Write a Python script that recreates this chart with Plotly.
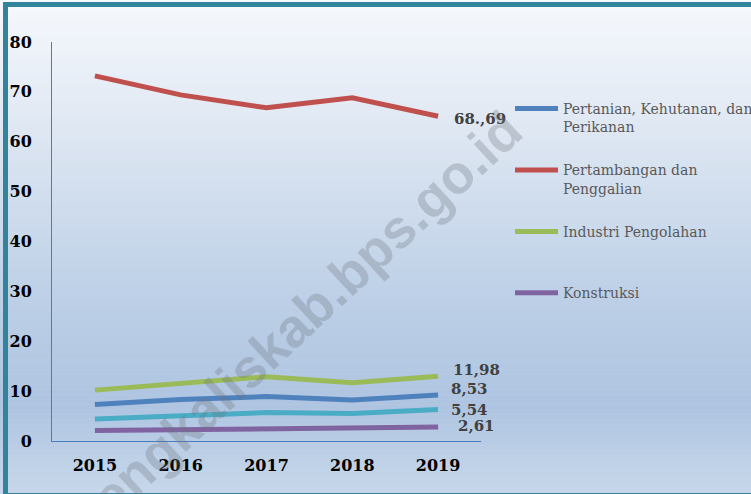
import plotly.graph_objects as go

years = ["2015", "2016", "2017", "2018", "2019"]
pertanian = [7.3, 8.3, 8.9, 8.2, 9.2]
pertambangan = [73.2, 69.4, 66.8, 68.8, 65.1]
industri = [10.2, 11.5, 12.9, 11.7, 13.0]
lainnya = [4.4, 5.0, 5.7, 5.5, 6.3]
konstruksi = [2.1, 2.3, 2.6, 2.6, 2.8]

names = ["Pertanian, Kehutanan, dan<br>Perikanan", "Pertambangan dan<br>Penggalian",
         "Industri Pengolahan<br> ", "Konstruksi"]
end_labels = ["8,53", "68.,69", "11,98", "5,54", "2,61"]
y_ticks = [0, 10, 20, 30, 40, 50, 60, 70, 80]

W, H = 751, 494
L, R, T, B = 52, 481, 42, 441  # plot area in pixels


def px2x(px):
    return (px - L) / (R - L)


def py2y(py):
    return (B - py) / (B - T)


fig = go.Figure()

series = [
    (pertanian, "#4f81bd", names[0], True),
    (pertambangan, "#c0504d", names[1], True),
    (industri, "#9bbb59", names[2], True),
    (lainnya, "#4bacc6", "Lainnya", False),
    (konstruksi, "#8064a2", names[3], True),
]
for i, (vals, col, nm, show) in enumerate(series):
    fig.add_trace(go.Scatter(
        x=years, y=vals, mode="lines", name=nm, showlegend=show,
        legendgroup=str(i),
        line=dict(color=col, width=5), hoverinfo="skip",
    ))

# end labels (positioned at the last category index)
last = len(years) - 1
label_shift = [(11, 6), (14, -3), (13, 6), (11, 0), (18, 1)]
for (vals, col, nm, show), lab, (dx, dy) in zip(series, end_labels, label_shift):
    fig.add_annotation(
        x=last, y=vals[-1], xref="x", yref="y", text="<b>%s</b>" % lab,
        showarrow=False, xanchor="left", yanchor="middle", xshift=dx, yshift=dy,
        font=dict(family="DejaVu Serif", size=15, color="#404040"),
    )

# gradient background
stops = [(0, (246, 249, 253)), (0.25, (224, 232, 243)), (0.6, (189, 208, 231)),
         (0.82, (174, 196, 224)), (1.0, (200, 216, 235))]


def col_at(t):
    for (t0, c0), (t1, c1) in zip(stops[:-1], stops[1:]):
        if t0 <= t <= t1:
            f = (t - t0) / (t1 - t0)
            return "rgb(%d,%d,%d)" % tuple(round(a + (b - a) * f) for a, b in zip(c0, c1))
    return "rgb(%d,%d,%d)" % stops[-1][1]


nb = 99
for k in range(nb):
    y0 = k * H / nb
    y1 = (k + 1) * H / nb + 0.6
    fig.add_shape(type="rect", xref="paper", yref="paper", layer="below",
                  x0=px2x(-2), x1=px2x(W + 2), y0=py2y(y0), y1=py2y(y1),
                  line=dict(width=0), fillcolor=col_at((k + 0.5) / nb))

# frame
fig.add_shape(type="rect", xref="paper", yref="paper", layer="above",
              x0=px2x(5.5), x1=px2x(W + 20), y0=py2y(4.5), y1=py2y(495.5),
              line=dict(color="#31849b", width=5), fillcolor="rgba(0,0,0,0)")

# watermark
fig.add_annotation(
    x=px2x(294), y=py2y(325), xref="paper", yref="paper",
    xanchor="center", yanchor="middle",
    text="<b>bengkaliskab.bps.go.id</b>", showarrow=False, textangle=-43,
    font=dict(family="Liberation Sans", size=54, color="rgba(110,115,125,0.30)"),
)

fig.update_layout(
    width=W, height=H,
    margin=dict(l=L, r=W - R, t=T, b=H - B, pad=0, autoexpand=False),
    paper_bgcolor="#dfe7f2", plot_bgcolor="rgba(0,0,0,0)",
    showlegend=True,
    legend=dict(
        x=px2x(510), y=py2y(93), xanchor="left", yanchor="top",
        bgcolor="rgba(0,0,0,0)", traceorder="grouped", tracegroupgap=22,
        valign="top", itemwidth=43,
        font=dict(family="DejaVu Serif", size=14, color="#595959"),
    ),
    xaxis=dict(
        type="category", range=[-0.5, 4.5], showgrid=False, zeroline=False,
        showline=True, linecolor="#4a7ebb", linewidth=1, ticks="",
        tickfont=dict(family="DejaVu Serif", size=16, color="#000000", weight="bold"),
        ticklabelstandoff=10,
    ),
    yaxis=dict(
        range=[0, 80], tickvals=y_ticks, showgrid=False, zeroline=False,
        showline=True, linecolor="#4a7ebb", linewidth=1, ticks="",
        tickfont=dict(family="DejaVu Serif", size=16, color="#000000", weight="bold"),
        ticklabelstandoff=16,
    ),
)

fig.write_html("out.html", config={"displayModeBar": False},
               post_script="document.body.style.margin='0';")
